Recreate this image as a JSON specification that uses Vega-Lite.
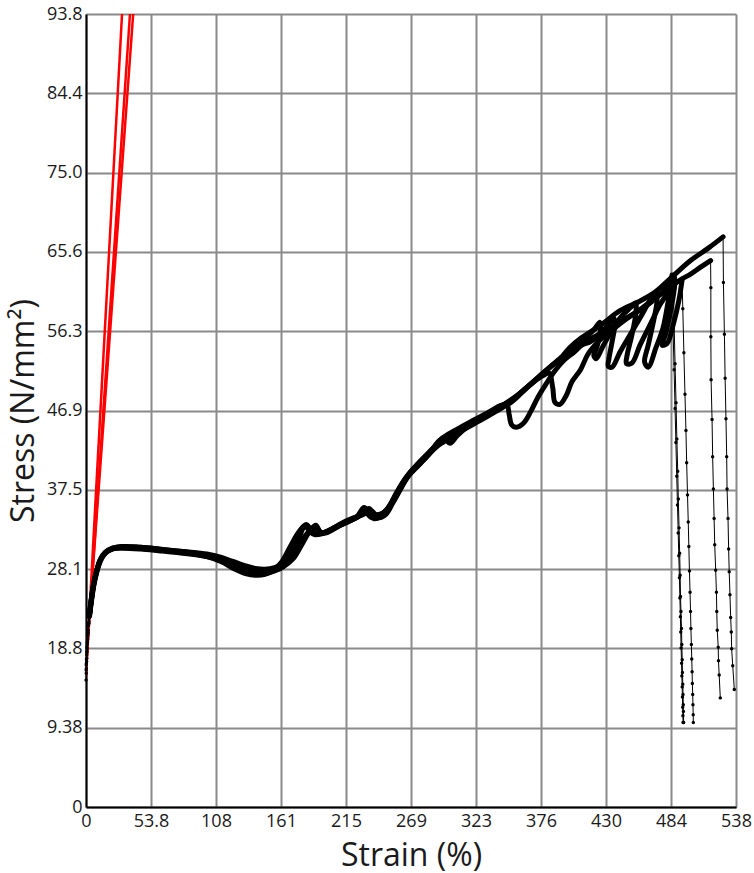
{
  "$schema": "https://vega.github.io/schema/vega-lite/v6.json",
  "width": 650,
  "height": 793,
  "autosize": {"type": "none"},
  "padding": {"left": 86, "top": 14, "right": 18, "bottom": 66},
  "background": "white",
  "config": {"view": {"stroke": null}, "font": "Open Sans"},
  "datasets": {
    "red": [
      {"r": "1", "x": 0, "y": 15.5}, {"r": "1", "x": 32.2, "y": 100},
      {"r": "2", "x": 0, "y": 16.3}, {"r": "2", "x": 39.3, "y": 100},
      {"r": "3", "x": 0, "y": 17.0}, {"r": "3", "x": 42.2, "y": 100}
    ],
    "thick": [
      {"s":"A","x":3.0,"y":22.8},{"s":"A","x":4.5,"y":24.5},{"s":"A","x":6.5,"y":26.4},{"s":"A","x":9,"y":28.0},{"s":"A","x":12,"y":29.3},{"s":"A","x":16,"y":30.1},{"s":"A","x":22,"y":30.6},{"s":"A","x":30,"y":30.8},{"s":"A","x":45,"y":30.7},{"s":"A","x":60,"y":30.5},{"s":"A","x":80,"y":30.2},{"s":"A","x":100,"y":29.8},{"s":"A","x":112,"y":29.3},{"s":"A","x":122,"y":28.7},{"s":"A","x":132,"y":28.1},{"s":"A","x":140,"y":27.8},{"s":"A","x":148,"y":27.8},{"s":"A","x":156,"y":28.0},{"s":"A","x":163,"y":28.4},{"s":"A","x":171,"y":29.3},{"s":"A","x":178,"y":30.9},{"s":"A","x":185,"y":32.6},{"s":"A","x":190,"y":33.3},{"s":"A","x":194,"y":32.5},{"s":"A","x":199,"y":32.4},{"s":"A","x":205,"y":33.0},{"s":"A","x":215,"y":33.8},{"s":"A","x":225,"y":34.4},{"s":"A","x":232,"y":34.9},{"s":"A","x":238,"y":34.5},{"s":"A","x":244,"y":34.6},{"s":"A","x":250,"y":35.4},{"s":"A","x":257,"y":37.2},{"s":"A","x":264,"y":38.8},{"s":"A","x":272,"y":40.2},{"s":"A","x":280,"y":41.4},{"s":"A","x":290,"y":42.8},{"s":"A","x":300,"y":43.7},{"s":"A","x":310,"y":44.6},{"s":"A","x":320,"y":45.4},{"s":"A","x":330,"y":46.2},{"s":"A","x":342,"y":47.2},{"s":"A","x":352,"y":48.1},{"s":"A","x":362,"y":49.3},{"s":"A","x":370,"y":50.3},{"s":"A","x":378,"y":51.3},{"s":"A","x":386,"y":52.3},{"s":"A","x":394,"y":53.3},{"s":"A","x":400,"y":54.3},{"s":"A","x":410,"y":55.5},{"s":"A","x":425,"y":56.9},{"s":"A","x":442,"y":58.7},{"s":"A","x":458,"y":59.8},{"s":"A","x":471,"y":60.9},{"s":"A","x":485,"y":62.7},{"s":"A","x":500,"y":64.6},{"s":"A","x":515,"y":66.1},{"s":"A","x":526.9,"y":67.4},
      {"s":"B","x":3.0,"y":22.6},{"s":"B","x":4.5,"y":24.3},{"s":"B","x":6.5,"y":26.2},{"s":"B","x":9,"y":27.8},{"s":"B","x":12,"y":29.1},{"s":"B","x":16,"y":30.0},{"s":"B","x":22,"y":30.5},{"s":"B","x":30,"y":30.7},{"s":"B","x":45,"y":30.6},{"s":"B","x":60,"y":30.4},{"s":"B","x":80,"y":30.1},{"s":"B","x":100,"y":29.6},{"s":"B","x":112,"y":29.0},{"s":"B","x":122,"y":28.2},{"s":"B","x":132,"y":27.6},{"s":"B","x":140,"y":27.4},{"s":"B","x":148,"y":27.5},{"s":"B","x":155,"y":28.0},{"s":"B","x":162,"y":29.0},{"s":"B","x":169,"y":30.8},{"s":"B","x":176,"y":32.5},{"s":"B","x":182,"y":33.4},{"s":"B","x":186,"y":32.8},{"s":"B","x":190,"y":32.3},{"s":"B","x":196,"y":32.4},{"s":"B","x":205,"y":33.0},{"s":"B","x":215,"y":33.6},{"s":"B","x":224,"y":34.3},{"s":"B","x":230,"y":35.4},{"s":"B","x":234,"y":34.8},{"s":"B","x":238,"y":34.1},{"s":"B","x":245,"y":34.5},{"s":"B","x":252,"y":35.8},{"s":"B","x":259,"y":37.6},{"s":"B","x":266,"y":39.2},{"s":"B","x":274,"y":40.4},{"s":"B","x":282,"y":41.5},{"s":"B","x":292,"y":43.0},{"s":"B","x":302,"y":44.0},{"s":"B","x":312,"y":44.8},{"s":"B","x":322,"y":45.6},{"s":"B","x":332,"y":46.4},{"s":"B","x":344,"y":47.4},{"s":"B","x":354,"y":48.3},{"s":"B","x":364,"y":49.5},{"s":"B","x":372,"y":50.5},{"s":"B","x":380,"y":51.5},{"s":"B","x":388,"y":52.5},{"s":"B","x":396,"y":53.4},{"s":"B","x":404,"y":54.4},{"s":"B","x":412,"y":55.3},{"s":"B","x":420,"y":56.4},{"s":"B","x":425,"y":57.3},{"s":"B","x":425.5,"y":56.4},{"s":"B","x":423,"y":54.6},{"s":"B","x":420,"y":53.4},{"s":"B","x":422,"y":53.0},{"s":"B","x":428,"y":54.6},{"s":"B","x":436,"y":56.4},{"s":"B","x":448,"y":57.8},{"s":"B","x":460,"y":59.0},{"s":"B","x":472,"y":60.3},{"s":"B","x":482,"y":61.3},{"s":"B","x":491.3,"y":62.3},{"s":"B","x":500,"y":63.0},{"s":"B","x":508,"y":63.8},{"s":"B","x":516.6,"y":64.6},
      {"s":"C","x":2.6,"y":22.5},{"s":"C","x":4,"y":24.2},{"s":"C","x":6,"y":26.2},{"s":"C","x":8.5,"y":27.8},{"s":"C","x":11.5,"y":29.1},{"s":"C","x":15.5,"y":30.0},{"s":"C","x":21,"y":30.5},{"s":"C","x":30,"y":30.6},{"s":"C","x":45,"y":30.5},{"s":"C","x":60,"y":30.3},{"s":"C","x":80,"y":30.0},{"s":"C","x":100,"y":29.6},{"s":"C","x":112,"y":29.1},{"s":"C","x":122,"y":28.4},{"s":"C","x":132,"y":27.8},{"s":"C","x":140,"y":27.5},{"s":"C","x":148,"y":27.6},{"s":"C","x":156,"y":28.0},{"s":"C","x":163,"y":28.5},{"s":"C","x":170,"y":29.5},{"s":"C","x":178,"y":31.2},{"s":"C","x":185,"y":32.6},{"s":"C","x":190,"y":33.1},{"s":"C","x":194,"y":32.4},{"s":"C","x":200,"y":32.6},{"s":"C","x":208,"y":33.2},{"s":"C","x":218,"y":33.9},{"s":"C","x":228,"y":34.5},{"s":"C","x":236,"y":35.0},{"s":"C","x":242,"y":34.2},{"s":"C","x":248,"y":34.6},{"s":"C","x":254,"y":36.0},{"s":"C","x":261,"y":37.8},{"s":"C","x":268,"y":39.5},{"s":"C","x":276,"y":40.7},{"s":"C","x":284,"y":41.8},{"s":"C","x":292,"y":43.3},{"s":"C","x":300,"y":44.1},{"s":"C","x":310,"y":44.9},{"s":"C","x":320,"y":45.7},{"s":"C","x":332,"y":46.6},{"s":"C","x":342,"y":47.4},{"s":"C","x":348,"y":47.6},{"s":"C","x":350,"y":46.4},{"s":"C","x":352,"y":45.2},{"s":"C","x":356,"y":44.9},{"s":"C","x":362,"y":45.4},{"s":"C","x":368,"y":46.8},{"s":"C","x":374,"y":48.5},{"s":"C","x":380,"y":49.9},{"s":"C","x":388,"y":51.6},{"s":"C","x":396,"y":52.9},{"s":"C","x":404,"y":53.8},{"s":"C","x":410,"y":54.6},{"s":"C","x":417,"y":55.0},{"s":"C","x":425.1,"y":55.9},{"s":"C","x":431.7,"y":57.0},{"s":"C","x":436.7,"y":57.8},{"s":"C","x":437.2,"y":56.8},{"s":"C","x":435.1,"y":55.0},{"s":"C","x":432.5,"y":53.0},{"s":"C","x":432.0,"y":52.1},{"s":"C","x":435.1,"y":52.0},{"s":"C","x":441.7,"y":53.8},{"s":"C","x":449.9,"y":55.8},{"s":"C","x":458.2,"y":57.8},{"s":"C","x":466.5,"y":59.9},{"s":"C","x":471.5,"y":60.8},{"s":"C","x":472.3,"y":59.9},{"s":"C","x":469.5,"y":57.5},{"s":"C","x":465.0,"y":54.6},{"s":"C","x":462.0,"y":52.6},{"s":"C","x":465.0,"y":52.0},{"s":"C","x":471.4,"y":54.3},{"s":"C","x":477.2,"y":56.6},{"s":"C","x":481.3,"y":59.6},{"s":"C","x":484.7,"y":62.9},
      {"s":"D","x":2.9,"y":22.7},{"s":"D","x":4.3,"y":24.4},{"s":"D","x":6.3,"y":26.3},{"s":"D","x":8.8,"y":27.9},{"s":"D","x":11.8,"y":29.2},{"s":"D","x":16,"y":30.1},{"s":"D","x":22,"y":30.6},{"s":"D","x":30,"y":30.8},{"s":"D","x":45,"y":30.7},{"s":"D","x":60,"y":30.5},{"s":"D","x":80,"y":30.2},{"s":"D","x":100,"y":29.9},{"s":"D","x":112,"y":29.5},{"s":"D","x":122,"y":29.0},{"s":"D","x":132,"y":28.5},{"s":"D","x":140,"y":28.2},{"s":"D","x":148,"y":28.1},{"s":"D","x":156,"y":28.3},{"s":"D","x":163,"y":28.8},{"s":"D","x":170,"y":30.2},{"s":"D","x":176,"y":31.8},{"s":"D","x":181,"y":33.2},{"s":"D","x":185,"y":32.6},{"s":"D","x":189,"y":32.2},{"s":"D","x":195,"y":32.3},{"s":"D","x":204,"y":32.9},{"s":"D","x":214,"y":33.6},{"s":"D","x":224,"y":34.2},{"s":"D","x":230,"y":35.0},{"s":"D","x":236,"y":34.2},{"s":"D","x":244,"y":34.3},{"s":"D","x":251,"y":35.5},{"s":"D","x":258,"y":37.3},{"s":"D","x":265,"y":38.9},{"s":"D","x":273,"y":40.1},{"s":"D","x":281,"y":41.3},{"s":"D","x":291,"y":42.7},{"s":"D","x":301,"y":43.6},{"s":"D","x":311,"y":44.5},{"s":"D","x":321,"y":45.3},{"s":"D","x":331,"y":46.1},{"s":"D","x":343,"y":47.1},{"s":"D","x":353,"y":48.0},{"s":"D","x":362,"y":49.2},{"s":"D","x":370,"y":50.2},{"s":"D","x":378,"y":51.0},{"s":"D","x":383,"y":51.3},{"s":"D","x":386,"y":49.6},{"s":"D","x":388,"y":47.8},{"s":"D","x":392,"y":47.6},{"s":"D","x":397,"y":48.6},{"s":"D","x":402,"y":50.3},{"s":"D","x":409,"y":51.7},{"s":"D","x":415,"y":53.5},{"s":"D","x":421,"y":54.6},{"s":"D","x":428,"y":55.6},{"s":"D","x":435,"y":56.4},{"s":"D","x":441.7,"y":57.8},{"s":"D","x":449.9,"y":59.0},{"s":"D","x":454.5,"y":59.6},{"s":"D","x":454.8,"y":58.4},{"s":"D","x":451.5,"y":55.8},{"s":"D","x":447.5,"y":53.4},{"s":"D","x":447.0,"y":52.4},{"s":"D","x":451.6,"y":52.5},{"s":"D","x":458.2,"y":54.6},{"s":"D","x":466.5,"y":57.0},{"s":"D","x":474.8,"y":59.4},{"s":"D","x":479.8,"y":60.5},{"s":"D","x":483.0,"y":61.4},
      {"s":"E","x":2.8,"y":22.6},{"s":"E","x":4.2,"y":24.3},{"s":"E","x":6.2,"y":26.2},{"s":"E","x":8.7,"y":27.8},{"s":"E","x":11.7,"y":29.1},{"s":"E","x":15.8,"y":30.0},{"s":"E","x":21.5,"y":30.5},{"s":"E","x":30,"y":30.7},{"s":"E","x":45,"y":30.6},{"s":"E","x":60,"y":30.4},{"s":"E","x":80,"y":30.1},{"s":"E","x":100,"y":29.7},{"s":"E","x":112,"y":29.2},{"s":"E","x":122,"y":28.5},{"s":"E","x":132,"y":27.9},{"s":"E","x":140,"y":27.6},{"s":"E","x":148,"y":27.6},{"s":"E","x":156,"y":27.9},{"s":"E","x":163,"y":28.4},{"s":"E","x":171,"y":29.8},{"s":"E","x":179,"y":31.6},{"s":"E","x":186,"y":32.8},{"s":"E","x":190,"y":33.0},{"s":"E","x":194,"y":32.5},{"s":"E","x":200,"y":32.5},{"s":"E","x":209,"y":33.2},{"s":"E","x":219,"y":33.9},{"s":"E","x":229,"y":34.7},{"s":"E","x":234,"y":35.3},{"s":"E","x":239,"y":34.6},{"s":"E","x":246,"y":34.8},{"s":"E","x":253,"y":35.9},{"s":"E","x":260,"y":37.6},{"s":"E","x":267,"y":39.2},{"s":"E","x":275,"y":40.4},{"s":"E","x":283,"y":41.6},{"s":"E","x":291,"y":43.1},{"s":"E","x":296,"y":43.6},{"s":"E","x":301,"y":43.0},{"s":"E","x":307,"y":43.9},{"s":"E","x":316,"y":45.0},{"s":"E","x":326,"y":45.9},{"s":"E","x":338,"y":46.9},{"s":"E","x":348,"y":47.8},{"s":"E","x":358,"y":48.8},{"s":"E","x":366,"y":49.8},{"s":"E","x":374,"y":50.8},{"s":"E","x":382,"y":51.8},{"s":"E","x":390,"y":52.7},{"s":"E","x":398,"y":53.6},{"s":"E","x":406,"y":54.3},{"s":"E","x":416,"y":55.2},{"s":"E","x":428,"y":56.2},{"s":"E","x":440,"y":57.2},{"s":"E","x":452,"y":58.2},{"s":"E","x":463,"y":59.2},{"s":"E","x":470,"y":60.0},{"s":"E","x":478,"y":61.0},{"s":"E","x":483.0,"y":61.9},{"s":"E","x":486.5,"y":62.9},{"s":"E","x":486.8,"y":61.6},{"s":"E","x":484.0,"y":59.0},{"s":"E","x":479.5,"y":56.0},{"s":"E","x":476.5,"y":54.6},{"s":"E","x":480.6,"y":54.8},{"s":"E","x":486.0,"y":57.2},{"s":"E","x":490.5,"y":60.0},{"s":"E","x":493.0,"y":62.3}
    ],
    "thin": [
      {"g":"A-s","x":0,"y":15.0},{"g":"A-s","x":0.3,"y":16.4},{"g":"A-s","x":0.6,"y":17.6},{"g":"A-s","x":0.9,"y":18.7},{"g":"A-s","x":1.3,"y":19.8},{"g":"A-s","x":1.8,"y":20.9},{"g":"A-s","x":2.4,"y":21.9},{"g":"A-s","x":3.0,"y":22.8},
      {"g":"B-s","x":0.2,"y":15.8},{"g":"B-s","x":0.5,"y":17.2},{"g":"B-s","x":0.8,"y":18.4},{"g":"B-s","x":1.2,"y":19.5},{"g":"B-s","x":1.7,"y":20.6},{"g":"B-s","x":2.3,"y":21.7},{"g":"B-s","x":3.0,"y":22.6},
      {"g":"C-s","x":0.1,"y":16.2},{"g":"C-s","x":0.4,"y":17.5},{"g":"C-s","x":0.8,"y":18.9},{"g":"C-s","x":1.3,"y":20.2},{"g":"C-s","x":1.9,"y":21.4},{"g":"C-s","x":2.6,"y":22.5},
      {"g":"D-s","x":0.3,"y":17.0},{"g":"D-s","x":0.7,"y":18.3},{"g":"D-s","x":1.1,"y":19.5},{"g":"D-s","x":1.6,"y":20.6},{"g":"D-s","x":2.2,"y":21.7},{"g":"D-s","x":2.9,"y":22.7},
      {"g":"E-s","x":0.2,"y":16.8},{"g":"E-s","x":0.6,"y":18.0},{"g":"E-s","x":1.0,"y":19.2},{"g":"E-s","x":1.5,"y":20.4},{"g":"E-s","x":2.1,"y":21.5},{"g":"E-s","x":2.8,"y":22.6},
      {"g":"A-e","x":526.9,"y":67.4},{"g":"A-e","x":527.2,"y":62.0},{"g":"A-e","x":528.0,"y":55.9},{"g":"A-e","x":528.6,"y":50.7},{"g":"A-e","x":529.3,"y":45.9},{"g":"A-e","x":529.9,"y":41.4},{"g":"A-e","x":530.2,"y":37.6},{"g":"A-e","x":531.0,"y":34.1},{"g":"A-e","x":531.5,"y":30.5},{"g":"A-e","x":532.0,"y":27.8},{"g":"A-e","x":532.6,"y":25.1},{"g":"A-e","x":533.2,"y":22.4},{"g":"A-e","x":533.7,"y":20.7},{"g":"A-e","x":534.0,"y":18.7},{"g":"A-e","x":534.9,"y":16.7},{"g":"A-e","x":536.2,"y":13.9},
      {"g":"B-e","x":516.6,"y":64.6},{"g":"B-e","x":516.8,"y":61.4},{"g":"B-e","x":516.8,"y":55.6},{"g":"B-e","x":517.0,"y":50.5},{"g":"B-e","x":517.8,"y":45.8},{"g":"B-e","x":518.3,"y":41.4},{"g":"B-e","x":518.9,"y":37.6},{"g":"B-e","x":519.5,"y":34.1},{"g":"B-e","x":520.0,"y":31.0},{"g":"B-e","x":520.8,"y":28.0},{"g":"B-e","x":521.4,"y":25.4},{"g":"B-e","x":521.7,"y":23.1},{"g":"B-e","x":522.1,"y":20.9},{"g":"B-e","x":522.9,"y":18.9},{"g":"B-e","x":523.1,"y":17.3},{"g":"B-e","x":523.7,"y":15.6},{"g":"B-e","x":524.6,"y":12.9},
      {"g":"C-e","x":484.7,"y":62.9},{"g":"C-e","x":485.7,"y":62.0},{"g":"C-e","x":486.4,"y":57.3},{"g":"C-e","x":487.2,"y":52.4},{"g":"C-e","x":488.0,"y":47.8},{"g":"C-e","x":488.7,"y":43.5},{"g":"C-e","x":489.4,"y":39.7},{"g":"C-e","x":489.9,"y":36.4},{"g":"C-e","x":490.5,"y":33.0},{"g":"C-e","x":491.0,"y":30.0},{"g":"C-e","x":491.4,"y":27.4},{"g":"C-e","x":491.7,"y":24.9},{"g":"C-e","x":492.1,"y":23.1},{"g":"C-e","x":492.5,"y":21.1},{"g":"C-e","x":492.8,"y":19.2},{"g":"C-e","x":493.1,"y":17.4},{"g":"C-e","x":493.3,"y":15.9},{"g":"C-e","x":493.6,"y":14.5},{"g":"C-e","x":493.8,"y":13.3},{"g":"C-e","x":494.0,"y":12.1},{"g":"C-e","x":494.1,"y":11.3},{"g":"C-e","x":494.3,"y":10.0},
      {"g":"D-e","x":483.0,"y":61.4},{"g":"D-e","x":485.5,"y":56.6},{"g":"D-e","x":486.4,"y":51.7},{"g":"D-e","x":487.2,"y":47.1},{"g":"D-e","x":487.9,"y":43.1},{"g":"D-e","x":488.6,"y":39.1},{"g":"D-e","x":489.2,"y":35.7},{"g":"D-e","x":489.8,"y":32.4},{"g":"D-e","x":490.3,"y":29.7},{"g":"D-e","x":490.8,"y":27.1},{"g":"D-e","x":491.2,"y":24.7},{"g":"D-e","x":491.6,"y":22.5},{"g":"D-e","x":491.9,"y":20.7},{"g":"D-e","x":492.2,"y":18.8},{"g":"D-e","x":492.6,"y":17.0},{"g":"D-e","x":492.8,"y":15.5},{"g":"D-e","x":493.1,"y":14.2},{"g":"D-e","x":493.3,"y":13.0},{"g":"D-e","x":493.5,"y":11.8},{"g":"D-e","x":493.7,"y":10.8},{"g":"D-e","x":493.8,"y":10.0},
      {"g":"E-e","x":493.0,"y":62.3},{"g":"E-e","x":493.6,"y":58.9},{"g":"E-e","x":494.5,"y":53.7},{"g":"E-e","x":495.4,"y":48.8},{"g":"E-e","x":496.2,"y":44.5},{"g":"E-e","x":496.8,"y":40.7},{"g":"E-e","x":497.5,"y":36.9},{"g":"E-e","x":498.1,"y":33.7},{"g":"E-e","x":498.6,"y":30.8},{"g":"E-e","x":499.1,"y":27.9},{"g":"E-e","x":499.6,"y":25.4},{"g":"E-e","x":500.0,"y":23.1},{"g":"E-e","x":500.3,"y":21.1},{"g":"E-e","x":500.7,"y":19.2},{"g":"E-e","x":501.0,"y":17.5},{"g":"E-e","x":501.3,"y":16.0},{"g":"E-e","x":501.5,"y":14.6},{"g":"E-e","x":501.8,"y":13.3},{"g":"E-e","x":502.0,"y":12.1},{"g":"E-e","x":502.2,"y":10.9},{"g":"E-e","x":502.3,"y":10.0}
    ]
  },
  "encoding": {
    "x": {
      "field": "x", "type": "quantitative",
      "scale": {"domain": [0, 537.6], "nice": false, "zero": false},
      "axis": {
        "title": "Strain (%)",
        "values": [0, 53.76, 107.52, 161.28, 215.04, 268.8, 322.56, 376.32, 430.08, 483.84, 537.6],
        "labelExpr": "['0','53.8','108','161','215','269','323','376','430','484','538'][round(datum.value/53.76)]",
        "grid": true, "gridColor": "#8a8a8a", "gridWidth": 2,
        "domainColor": "#000000", "domainWidth": 2, "ticks": false,
        "labelFontSize": 18, "labelColor": "#1a1a1a", "labelPadding": 5, "labelFlush": false, "labelOverlap": false,
        "titleFontSize": 32, "titleFontWeight": "normal", "titleColor": "#1a1a1a", "titlePadding": 10
      }
    },
    "y": {
      "field": "y", "type": "quantitative",
      "scale": {"domain": [0, 93.75], "nice": false, "zero": false},
      "axis": {
        "title": "Stress (N/mm²)",
        "values": [0, 9.375, 18.75, 28.125, 37.5, 46.875, 56.25, 65.625, 75, 84.375, 93.75],
        "labelExpr": "['0','9.38','18.8','28.1','37.5','46.9','56.3','65.6','75.0','84.4','93.8'][round(datum.value/9.375)]",
        "grid": true, "gridColor": "#8a8a8a", "gridWidth": 2,
        "domainColor": "#000000", "domainWidth": 2, "ticks": false,
        "labelFontSize": 18, "labelColor": "#1a1a1a", "labelPadding": 4, "labelFlush": false, "labelOverlap": false,
        "titleFontSize": 32, "titleFontWeight": "normal", "titleColor": "#1a1a1a", "titlePadding": 6
      }
    }
  },
  "layer": [
    {
      "data": {"name": "red"},
      "mark": {"type": "line", "color": "#ff0000", "strokeWidth": 2.5, "clip": true},
      "encoding": {"detail": {"field": "r"}}
    },
    {
      "data": {"name": "thick"},
      "mark": {"type": "line", "color": "#000000", "strokeWidth": 5, "strokeJoin": "round", "strokeCap": "round", "interpolate": "catmull-rom"},
      "encoding": {"detail": {"field": "s"}, "order": {"value": null}}
    },
    {
      "data": {"name": "thin"},
      "mark": {"type": "line", "color": "#000000", "strokeWidth": 1},
      "encoding": {"detail": {"field": "g"}, "order": {"value": null}}
    },
    {
      "data": {"name": "thin"},
      "mark": {"type": "point", "filled": true, "color": "#000000", "size": 12, "opacity": 1},
      "encoding": {}
    }
  ]
}
